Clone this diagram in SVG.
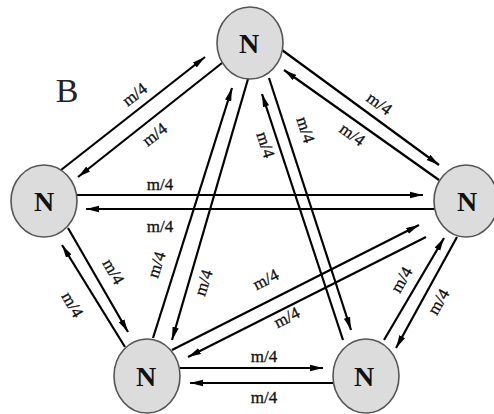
<svg xmlns="http://www.w3.org/2000/svg" width="494" height="414" viewBox="0 0 494 414">
<defs>
<marker id="ah" markerUnits="userSpaceOnUse" markerWidth="14" markerHeight="8" refX="13" refY="4" orient="auto">
<path d="M0,0.8 L13,4 L0,7.2 z" fill="#000"/>
</marker>
<style>
.n ellipse{fill:#dcdcdc;stroke:#555;stroke-width:1.6}
.n text{font-family:"Liberation Serif",serif;font-size:28px;font-weight:bold;text-anchor:middle;fill:#111}
.e line{stroke:#000;stroke-width:2.2;marker-end:url(#ah)}
.lb{font-family:"Liberation Serif",serif;font-size:17px;text-anchor:middle;fill:#111;stroke:#111;stroke-width:0.3}
</style>
</defs>
<rect width="494" height="414" fill="#fff"/>
<text x="67" y="102" font-family="'Liberation Serif',serif" font-size="34" text-anchor="middle" fill="#222">B</text>
<g id="edges" class="e">
<line x1="61" y1="170" x2="205" y2="57"/>
<line x1="222" y1="63" x2="78" y2="177"/>
<line x1="282" y1="50" x2="439" y2="165"/>
<line x1="439" y1="180" x2="284" y2="70"/>
<line x1="76" y1="195" x2="423" y2="195"/>
<line x1="436" y1="209" x2="86" y2="209"/>
<line x1="153" y1="338" x2="232" y2="88"/>
<line x1="248" y1="79" x2="172" y2="340"/>
<line x1="343" y1="340" x2="262" y2="94"/>
<line x1="269" y1="78" x2="351" y2="330"/>
<line x1="68" y1="228" x2="128" y2="332"/>
<line x1="125" y1="347" x2="62" y2="245"/>
<line x1="172" y1="350" x2="419" y2="225"/>
<line x1="426" y1="237" x2="188" y2="357"/>
<line x1="384" y1="340" x2="444" y2="238"/>
<line x1="457" y1="237" x2="396" y2="348"/>
<line x1="180" y1="368" x2="323" y2="368"/>
<line x1="333" y1="383" x2="190" y2="383"/>
</g>
<g id="labels">
<text class="lb" transform="translate(135,95) rotate(-38)" y="5">m/4</text>
<text class="lb" transform="translate(155,135) rotate(-38)" y="5">m/4</text>
<text class="lb" transform="translate(379,104) rotate(36)" y="5">m/4</text>
<text class="lb" transform="translate(352,135) rotate(36)" y="5">m/4</text>
<text class="lb" transform="translate(160,185)" y="5">m/4</text>
<text class="lb" transform="translate(160,227)" y="5">m/4</text>
<text class="lb" transform="translate(157,265) rotate(-72)" y="5">m/4</text>
<text class="lb" transform="translate(204,283) rotate(-72)" y="5">m/4</text>
<text class="lb" transform="translate(265,145) rotate(72)" y="5">m/4</text>
<text class="lb" transform="translate(305,130) rotate(72)" y="5">m/4</text>
<text class="lb" transform="translate(113,272) rotate(60)" y="5">m/4</text>
<text class="lb" transform="translate(72,305) rotate(60)" y="5">m/4</text>
<text class="lb" transform="translate(266,280) rotate(-27)" y="5">m/4</text>
<text class="lb" transform="translate(287,318) rotate(-27)" y="5">m/4</text>
<text class="lb" transform="translate(402,280) rotate(-60)" y="5">m/4</text>
<text class="lb" transform="translate(439,302) rotate(-60)" y="5">m/4</text>
<text class="lb" transform="translate(264,357)" y="5">m/4</text>
<text class="lb" transform="translate(264,398)" y="5">m/4</text>
</g>
<g id="nT" class="n"><ellipse cx="250" cy="43" rx="33" ry="36"/><text x="249" y="53">N</text></g>
<g id="nL" class="n"><ellipse cx="44" cy="201" rx="33" ry="36"/><text x="44" y="211">N</text></g>
<g id="nR" class="n"><ellipse cx="466" cy="201" rx="32" ry="36"/><text x="467" y="211">N</text></g>
<g id="nBL" class="n"><ellipse cx="147" cy="376" rx="33" ry="37"/><text x="146" y="386">N</text></g>
<g id="nBR" class="n"><ellipse cx="366" cy="376" rx="33" ry="37"/><text x="364" y="386">N</text></g>
</svg>
